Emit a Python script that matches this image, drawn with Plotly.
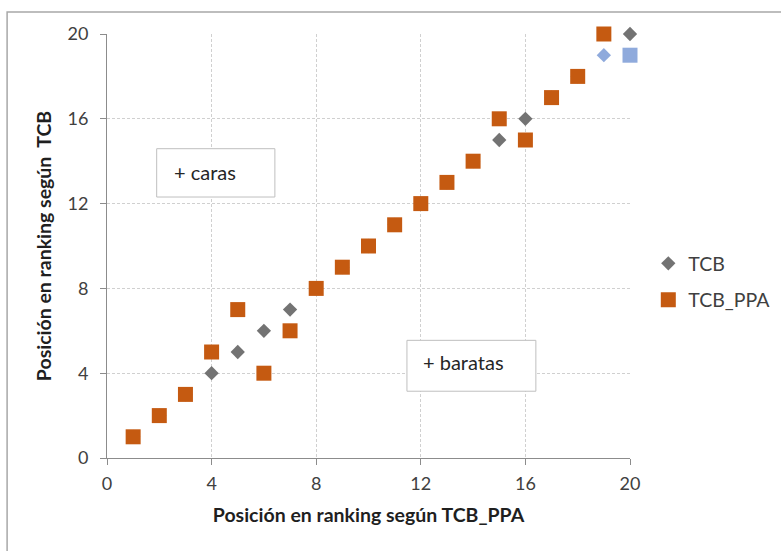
import plotly.graph_objects as go

# ---- data ----
rank_tcb_ppa = list(range(1, 21))
tcb = [1, 2, 3, 4, 5, 6, 7, 8, 9, 10, 11, 12, 13, 14, 15, 16, 17, 18, 19, 20]
tcb_ppa = [1, 2, 3, 5, 7, 4, 6, 8, 9, 10, 11, 12, 13, 14, 16, 15, 17, 18, 20, 19]
highlight_tcb = 18      # index of highlighted point in TCB
highlight_ppa = 19      # index of highlighted point in TCB_PPA
x_ticks = [0, 4, 8, 12, 16, 20]
y_ticks = [0, 4, 8, 12, 16, 20]

GRAY = "#737373"
ORANGE = "#C55A11"
LIGHTBLUE = "#8FAADC"
FONT = "Lato"

col_tcb = [LIGHTBLUE if i == highlight_tcb else GRAY for i in range(len(tcb))]
col_ppa = [LIGHTBLUE if i == highlight_ppa else ORANGE for i in range(len(tcb_ppa))]

fig = go.Figure()
fig.add_trace(go.Scatter(
    x=rank_tcb_ppa, y=tcb, mode="markers", name="TCB",
    marker=dict(symbol="diamond", size=11, color=col_tcb, line=dict(width=0)),
    cliponaxis=False, legendgroup="a"))
fig.add_trace(go.Scatter(
    x=rank_tcb_ppa, y=tcb_ppa, mode="markers", name="TCB_PPA",
    marker=dict(symbol="square", size=15, color=col_ppa, line=dict(width=0)),
    cliponaxis=False, legendgroup="b"))

axis_common = dict(
    range=[0, 20], showline=True, linecolor="#8C8C8C", linewidth=1,
    ticks="outside", ticklen=6, tickcolor="#8C8C8C", tickwidth=1,
    showgrid=True, gridcolor="#D0D0D0", gridwidth=1, griddash="3px,2px",
    zeroline=False, mirror=False, automargin=False,
    tickfont=dict(family=FONT, size=18, color="#404040"),
)

fig.update_xaxes(**axis_common, tickvals=x_ticks, ticklabelstandoff=3,
                 title=dict(text="<b>Posición en ranking según TCB_PPA</b>",
                            font=dict(family=FONT, size=19.5, color="#1f1f1f"),
                            standoff=15))
fig.update_yaxes(**axis_common, tickvals=y_ticks, ticklabelstandoff=8,
                 title=dict(text="<b>Posición en ranking según  TCB</b>",
                            font=dict(family=FONT, size=19.5, color="#1f1f1f"),
                            standoff=10))

shapes = [
    # outer chart border
    dict(type="rect", xref="paper", yref="paper", x0=-0.191, x1=1.31, y0=-0.25, y1=1.052,
         line=dict(color="#A8A8A8", width=1.5), fillcolor="rgba(0,0,0,0)", layer="below"),
    # text boxes
    dict(type="rect", xref="x", yref="y", x0=1.90, x1=6.42, y0=12.31, y1=14.59,
         line=dict(color="#BFBFBF", width=1), fillcolor="white", layer="above"),
    dict(type="rect", xref="x", yref="y", x0=11.47, x1=16.40, y0=3.15, y1=5.55,
         line=dict(color="#BFBFBF", width=1), fillcolor="white", layer="above"),
]

annotations = [
    dict(text="+ caras", x=2.49, y=13.48, xref="x", yref="y", xanchor="left",
         yanchor="middle", showarrow=False, font=dict(family=FONT, size=20, color="#262626")),
    dict(text="+ baratas", x=12.0, y=4.51, xref="x", yref="y", xanchor="left",
         yanchor="middle", showarrow=False, font=dict(family=FONT, size=20, color="#262626")),
]

fig.update_layout(
    width=781, height=551,
    margin=dict(l=107, r=151, t=34, b=93, autoexpand=False),
    paper_bgcolor="white", plot_bgcolor="white",
    shapes=shapes, annotations=annotations,
    showlegend=True,
    legend=dict(x=1.035, y=0.416, xanchor="left", yanchor="middle",
                font=dict(family=FONT, size=19.5, color="#404040"),
                tracegroupgap=8, itemwidth=30, bgcolor="rgba(0,0,0,0)"),
    font=dict(family=FONT),
)

fig.write_html("out.html")
